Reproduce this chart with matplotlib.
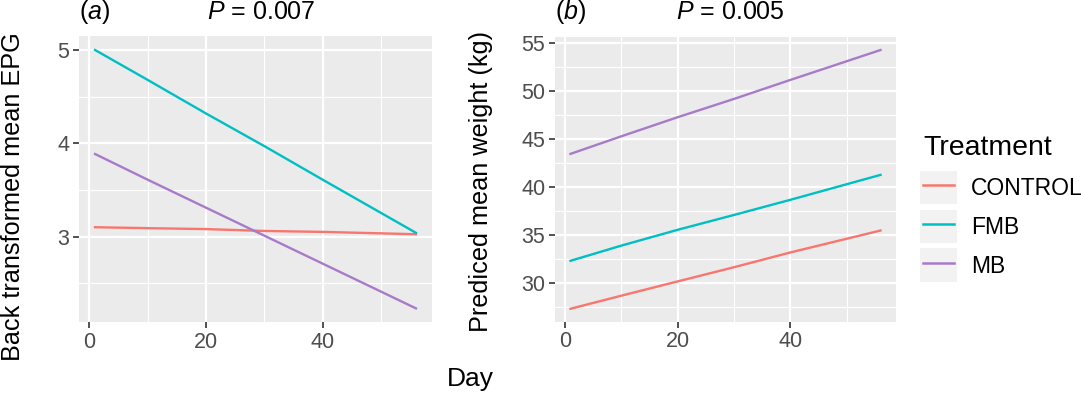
import matplotlib
matplotlib.use("Agg")
import matplotlib.pyplot as plt
from matplotlib.legend_handler import HandlerLine2D
from matplotlib.patches import Rectangle
from matplotlib.lines import Line2D

plt.rcParams["font.family"] = ["Liberation Sans", "DejaVu Sans"]
plt.rcParams["mathtext.fontset"] = "custom"
plt.rcParams["mathtext.rm"] = "Liberation Sans"
plt.rcParams["mathtext.it"] = "Liberation Sans:italic"

# Data
treatments = ["CONTROL", "FMB", "MB"]
colors = ["#F8766D", "#00BFC4", "#A87BC9"]
days = [1, 10, 20, 30, 40, 56]

epg_control = [3.10, 3.09, 3.08, 3.06, 3.05, 3.025]
epg_fmb = [5.00, 4.68, 4.32, 3.97, 3.61, 3.04]
epg_mb = [3.885, 3.61, 3.31, 3.01, 2.71, 2.23]

wt_control = [27.32, 28.68, 30.17, 31.65, 33.19, 35.48]
wt_fmb = [32.32, 33.90, 35.55, 37.10, 38.68, 41.28]
wt_mb = [43.47, 45.30, 47.29, 49.20, 51.18, 54.30]

panel_a = [epg_control, epg_fmb, epg_mb]
panel_b = [wt_control, wt_fmb, wt_mb]

W, H = 1081, 394
fig = plt.figure(figsize=(W / 100, H / 100), dpi=100)


def px_axes(l, t, r, b):
    return fig.add_axes([l / W, 1 - b / H, (r - l) / W, (b - t) / H])


def style(ax, yticks, yminor, ylim):
    ax.set_facecolor("#EBEBEB")
    for s in ax.spines.values():
        s.set_visible(False)
    ax.set_xlim(-1.75, 58.75)
    ax.set_ylim(*ylim)
    ax.set_xticks([0, 20, 40])
    ax.set_xticks([10, 30, 50], minor=True)
    ax.set_yticks(yticks)
    ax.set_yticks(yminor, minor=True)
    ax.grid(True, which="major", color="white", linewidth=1.6)
    ax.grid(True, which="minor", color="white", linewidth=0.8)
    ax.set_axisbelow(True)
    ax.tick_params(which="major", length=4, width=1.2, color="#333333",
                   labelsize=15.5, labelcolor="#4D4D4D", pad=3)
    ax.tick_params(which="minor", length=0)


ax1 = px_axes(79, 36, 432, 322)
for vals, c in zip(panel_a, colors):
    ax1.plot(days, vals, color=c, linewidth=1.7)
style(ax1, [3, 4, 5], [2.5, 3.5, 4.5], (2.084, 5.15))
ax1.set_ylabel("Back transformed mean EPG", fontsize=18.2)
ax1.yaxis.set_label_coords(-0.153, 0.437)

ax2 = px_axes(555, 36.7, 896, 321.7)
for vals, c in zip(panel_b, colors):
    ax2.plot(days, vals, color=c, linewidth=1.7)
style(ax2, [30, 35, 40, 45, 50, 55],
      [27.5, 32.5, 37.5, 42.5, 47.5, 52.5], (25.97, 55.69))
ax2.set_ylabel("Prediced mean weight (kg)", fontsize=18.2)
ax2.yaxis.set_label_coords(-0.182, 0.492)

fig.text(79 / W, 1 - 19 / H, r"($\mathit{a}$)", fontsize=18, ha="left", va="baseline")
fig.text(261 / W, 1 - 19 / H, r"$\mathit{P}$ = 0.007", fontsize=18, ha="center", va="baseline")
fig.text(555 / W, 1 - 19 / H, r"($\mathit{b}$)", fontsize=18, ha="left", va="baseline")
fig.text(730 / W, 1 - 19 / H, r"$\mathit{P}$ = 0.005", fontsize=18, ha="center", va="baseline")
fig.text(470 / W, 1 - 386 / H, "Day", fontsize=19, ha="center", va="baseline")


class KeyHandler(HandlerLine2D):
    def create_artists(self, legend, orig_handle, xdescent, ydescent,
                       width, height, fontsize, trans):
        bg = Rectangle((-xdescent - 2, -ydescent - 3.5), width + 4, height + 7,
                       facecolor="#F2F2F2", edgecolor="none", transform=trans)
        arts = super().create_artists(legend, orig_handle, xdescent, ydescent,
                                      width, height, fontsize, trans)
        return [bg] + list(arts)


handles = [Line2D([], [], color=c, linewidth=1.8) for c in colors]
leg = fig.legend(handles, treatments, title="Treatment",
                 loc="upper left", bbox_to_anchor=(907 / W, 1 - 119 / H),
                 frameon=False, fontsize=16.5, title_fontsize=20.5,
                 handlelength=1.35, handleheight=1.2, handletextpad=0.75,
                 labelspacing=0.63, borderpad=0.2,
                 handler_map={Line2D: KeyHandler()})
leg._legend_box.align = "left"

fig.savefig("out.png", dpi=100)
